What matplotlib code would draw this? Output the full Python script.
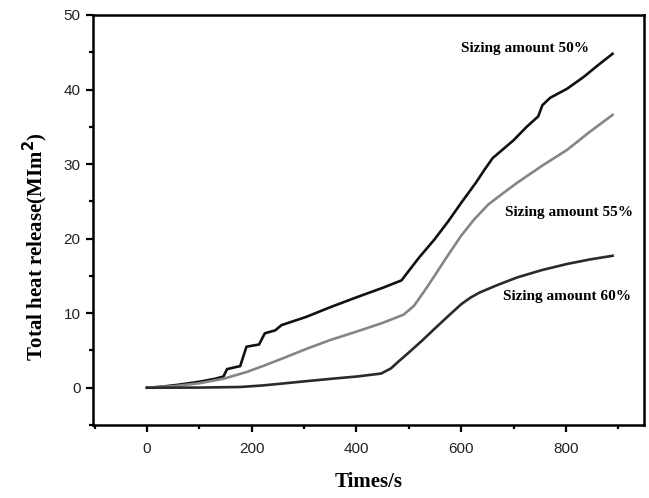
import matplotlib
matplotlib.use("Agg")
import matplotlib.pyplot as plt
from matplotlib.ticker import MultipleLocator

# Data (time in s, total heat release)
t50 = [0, 30, 60, 100, 130, 146, 153, 178, 190, 214, 225, 245, 257, 304, 350, 399, 450, 486, 498,
       520, 549, 575, 600, 628, 645, 660, 680, 700, 725, 747, 755, 770, 802, 834, 860, 889]
y50 = [0, 0.15, 0.4, 0.8, 1.2, 1.5, 2.5, 2.9, 5.5, 5.8, 7.3, 7.7, 8.4, 9.5, 10.8, 12.1, 13.4, 14.4, 15.5,
       17.5, 19.9, 22.3, 24.8, 27.5, 29.3, 30.8, 32.0, 33.2, 35.0, 36.4, 37.9, 38.9, 40.1, 41.7, 43.2, 44.8]

t55 = [0, 50, 100, 146, 190, 225, 265, 304, 350, 399, 450, 490, 510, 530, 549, 575, 600, 625,
       652, 680, 707, 755, 802, 845, 889]
y55 = [0, 0.2, 0.6, 1.2, 2.1, 3.0, 4.1, 5.2, 6.4, 7.5, 8.7, 9.8, 11.0, 13.0, 15.0, 17.8, 20.4, 22.6,
       24.6, 26.1, 27.5, 29.8, 31.9, 34.3, 36.6]

t60 = [0, 100, 178, 220, 257, 300, 352, 400, 447, 466, 480, 498, 525, 549, 575, 600, 618, 636,
       670, 707, 755, 802, 845, 889]
y60 = [0, 0.02, 0.1, 0.3, 0.55, 0.85, 1.2, 1.5, 1.9, 2.6, 3.5, 4.6, 6.3, 7.9, 9.6, 11.2, 12.1, 12.8,
       13.8, 14.8, 15.8, 16.6, 17.2, 17.7]

labels = ["Sizing amount 50%", "Sizing amount 55%", "Sizing amount 60%"]
label_x = [722, 806, 802]
label_y = [45.5, 23.5, 12.2]

fig = plt.figure(figsize=(6.49, 4.98), dpi=100)
ax = fig.add_axes([93/649, 1-425/498, (644-93)/649, (425-15)/498])

ax.plot(t50, y50, color="#111111", lw=1.9, solid_joinstyle="round")
ax.plot(t55, y55, color="#858585", lw=1.9, solid_joinstyle="round")
ax.plot(t60, y60, color="#2a2a2a", lw=1.9, solid_joinstyle="round")

serif = ["Liberation Serif", "DejaVu Serif"]
for s, x, y in zip(labels, label_x, label_y):
    ax.text(x, y, s, ha="center", va="center", fontsize=11, fontweight="bold", family=serif)

ax.set_xlim(-103, 949)
ax.set_ylim(-5, 50)
ax.xaxis.set_major_locator(MultipleLocator(200))
ax.xaxis.set_minor_locator(MultipleLocator(100))
ax.yaxis.set_major_locator(MultipleLocator(10))
ax.yaxis.set_minor_locator(MultipleLocator(5))

for sp in ax.spines.values():
    sp.set_linewidth(1.8)
ax.tick_params(which="major", direction="out", length=5, width=1.6, labelsize=11)
ax.tick_params(which="minor", direction="out", length=3, width=1.6)
ax.tick_params(axis="x", which="major", pad=7)
ax.tick_params(axis="y", which="major", pad=4)
for lab in ax.get_xticklabels() + ax.get_yticklabels():
    lab.set_family(["Liberation Sans", "DejaVu Sans"])
    lab.set_color("#222222")

ax.set_xlabel("Times/s", fontsize=15, fontweight="bold", family=serif, labelpad=12)
fig.text(35/649, 1-247/498, "Total heat release(MIm$^\\mathbf{2}$)", rotation=90,
         ha="center", va="center", fontsize=15, fontweight="bold", family=serif)

fig.savefig("out.png", dpi=100)
